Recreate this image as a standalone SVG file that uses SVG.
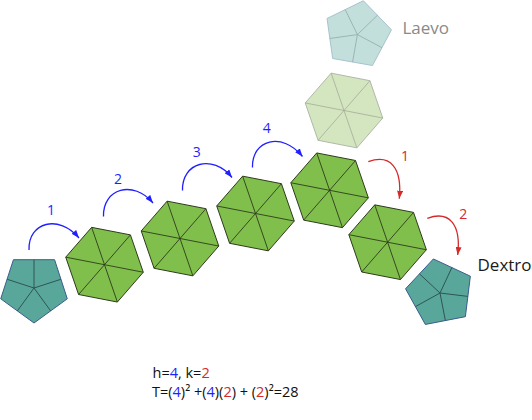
<svg xmlns="http://www.w3.org/2000/svg" width="532" height="420" viewBox="0 0 532 420">
<style>
  .hex { fill: #80bf4b; stroke: #2e3b1c; stroke-width: 1; stroke-linejoin: round; }
  .hexs { fill: none; stroke: #2e3b1c; stroke-width: 0.9; }
  .phex { fill: #d4e6c0; stroke: #a9b1a0; stroke-width: 0.9; stroke-linejoin: round; }
  .phexs { fill: none; stroke: #a4ab9a; stroke-width: 0.8; }
  .pent { fill: #59a79b; stroke: #3a5c8c; stroke-width: 1; stroke-linejoin: round; }
  .pents { fill: none; stroke: #2f5552; stroke-width: 1; }
  .ppent { fill: #c3dfdb; stroke: #a3bccb; stroke-width: 0.9; stroke-linejoin: round; }
  .ppents { fill: none; stroke: #90a9aa; stroke-width: 0.8; }
  .ab { fill: none; stroke: #1f1fff; stroke-width: 1.3; marker-end: url(#mb); }
  .ar { fill: none; stroke: #d42a2a; stroke-width: 1.3; marker-end: url(#mr); }
  text { font-family: "Open Sans", "DejaVu Sans", sans-serif; }
  .lb { font-size: 14px; fill: #1f1fff; text-anchor: middle; }
  .lr { font-size: 14px; fill: #d42a2a; text-anchor: middle; }
  .big { font-size: 17px; }
  .eq { font-size: 14.5px; fill: #111; }
  .b { fill: #1f1fff; }
  .r { fill: #d42a2a; }
</style>
<defs>
  <marker id="mb" viewBox="0 0 8 6" refX="8" refY="3" markerWidth="8" markerHeight="6" markerUnits="userSpaceOnUse" orient="auto">
    <path d="M0,0 L8,3 L0,6 z" fill="#1f1fff"/>
  </marker>
  <marker id="mr" viewBox="0 0 8 6" refX="8" refY="3" markerWidth="8" markerHeight="6" markerUnits="userSpaceOnUse" orient="auto">
    <path d="M0,0 L8,3 L0,6 z" fill="#d42a2a"/>
  </marker>
</defs>

<g id="pentagon-left">
  <polygon class="pent" points="34,323 0.71,298.8 13.43,259.7 54.57,259.7 67.29,298.8"/>
  <path class="pents" d="M34,288 L17.35,310.9 M34,288 L7.07,279.25 M34,288 L34,259.68 M34,288 L60.93,279.25 M34,288 L50.65,310.9"/>
</g>

<g id="hex1" transform="translate(104.5,264.7)">
  <polygon class="hex" points="38.77,7.54 12.86,37.35 -25.92,29.81 -38.77,-7.54 -12.86,-37.35 25.92,-29.81"/>
  <path class="hexs" d="M38.77,7.54 L-38.77,-7.54 M12.86,37.35 L-12.86,-37.35 M-25.92,29.81 L25.92,-29.81"/>
</g>
<g id="hex2" transform="translate(180,238.5)">
  <polygon class="hex" points="38.77,7.54 12.86,37.35 -25.92,29.81 -38.77,-7.54 -12.86,-37.35 25.92,-29.81"/>
  <path class="hexs" d="M38.77,7.54 L-38.77,-7.54 M12.86,37.35 L-12.86,-37.35 M-25.92,29.81 L25.92,-29.81"/>
</g>
<g id="hex3" transform="translate(255.5,213.5)">
  <polygon class="hex" points="38.77,7.54 12.86,37.35 -25.92,29.81 -38.77,-7.54 -12.86,-37.35 25.92,-29.81"/>
  <path class="hexs" d="M38.77,7.54 L-38.77,-7.54 M12.86,37.35 L-12.86,-37.35 M-25.92,29.81 L25.92,-29.81"/>
</g>
<g id="hex4" transform="translate(329.6,190.3)">
  <polygon class="hex" points="38.77,7.54 12.86,37.35 -25.92,29.81 -38.77,-7.54 -12.86,-37.35 25.92,-29.81"/>
  <path class="hexs" d="M38.77,7.54 L-38.77,-7.54 M12.86,37.35 L-12.86,-37.35 M-25.92,29.81 L25.92,-29.81"/>
</g>
<g id="hex5" transform="translate(387.6,242.2)">
  <polygon class="hex" points="38.77,7.54 12.86,37.35 -25.92,29.81 -38.77,-7.54 -12.86,-37.35 25.92,-29.81"/>
  <path class="hexs" d="M38.77,7.54 L-38.77,-7.54 M12.86,37.35 L-12.86,-37.35 M-25.92,29.81 L25.92,-29.81"/>
</g>
<g id="hex-pale" transform="translate(344,110.5)">
  <polygon class="phex" points="38.77,7.54 12.86,37.35 -25.92,29.81 -38.77,-7.54 -12.86,-37.35 25.92,-29.81"/>
  <path class="phexs" d="M38.77,7.54 L-38.77,-7.54 M12.86,37.35 L-12.86,-37.35 M-25.92,29.81 L25.92,-29.81"/>
</g>

<g id="pentagon-laevo">
  <polygon class="ppent" points="363.37,0.72 391.47,29.81 372.48,65.52 332.66,58.5 327.03,18.45"/>
  <path class="ppents" d="M357.4,34.6 L377.42,15.27 M357.4,34.6 L381.97,47.67 M357.4,34.6 L352.57,62.01 M357.4,34.6 L329.84,38.47 M357.4,34.6 L345.2,9.59"/>
  <text class="big" x="402.5" y="34.3" fill="#8a8a8a">Laevo</text>
</g>

<g id="pentagon-dextro">
  <polygon class="pent" points="433.38,258.94 470.35,276.18 465.38,316.67 425.34,324.45 405.56,288.77"/>
  <path class="pents" d="M440,293 L451.86,267.56 M440,293 L467.86,296.42 M440,293 L445.36,320.55 M440,293 L415.45,306.61 M440,293 L419.47,273.86"/>
  <text class="big" x="477.5" y="271" fill="#1a1a1a">Dextro</text>
</g>

<g id="connectors">
  <path class="ab" d="M29,250 c-1,-28 30,-36 50,-12"/>
  <path class="ab" d="M103.5,216.5 c-1,-28 30,-37 49.5,-13.5"/>
  <path class="ab" d="M182.5,190.5 c-1,-28 30,-37 49.5,-13"/>
  <path class="ab" d="M252.5,167.5 c-1,-28 30,-36 50,-11"/>
  <path class="ar" d="M368.3,161.7 c22,-8 34,6 31,37"/>
  <path class="ar" d="M427.3,218.3 c22,-8 34,6 30.4,36.7"/>
  <text class="lb" x="51" y="215">1</text>
  <text class="lb" x="118" y="184">2</text>
  <text class="lb" x="196.7" y="157.3">3</text>
  <text class="lb" x="266.7" y="133.3">4</text>
  <text class="lr" x="405" y="161">1</text>
  <text class="lr" x="463.3" y="219.3">2</text>
</g>

<g id="formula">
  <text class="eq" x="152.5" y="378">h=<tspan class="b">4</tspan>, k=<tspan class="r">2</tspan></text>
  <text class="eq" x="152" y="397">T=(<tspan class="b">4</tspan>)² +(<tspan class="b">4</tspan>)(<tspan class="r">2</tspan>) + (<tspan class="r">2</tspan>)²=28</text>
</g>
</svg>
